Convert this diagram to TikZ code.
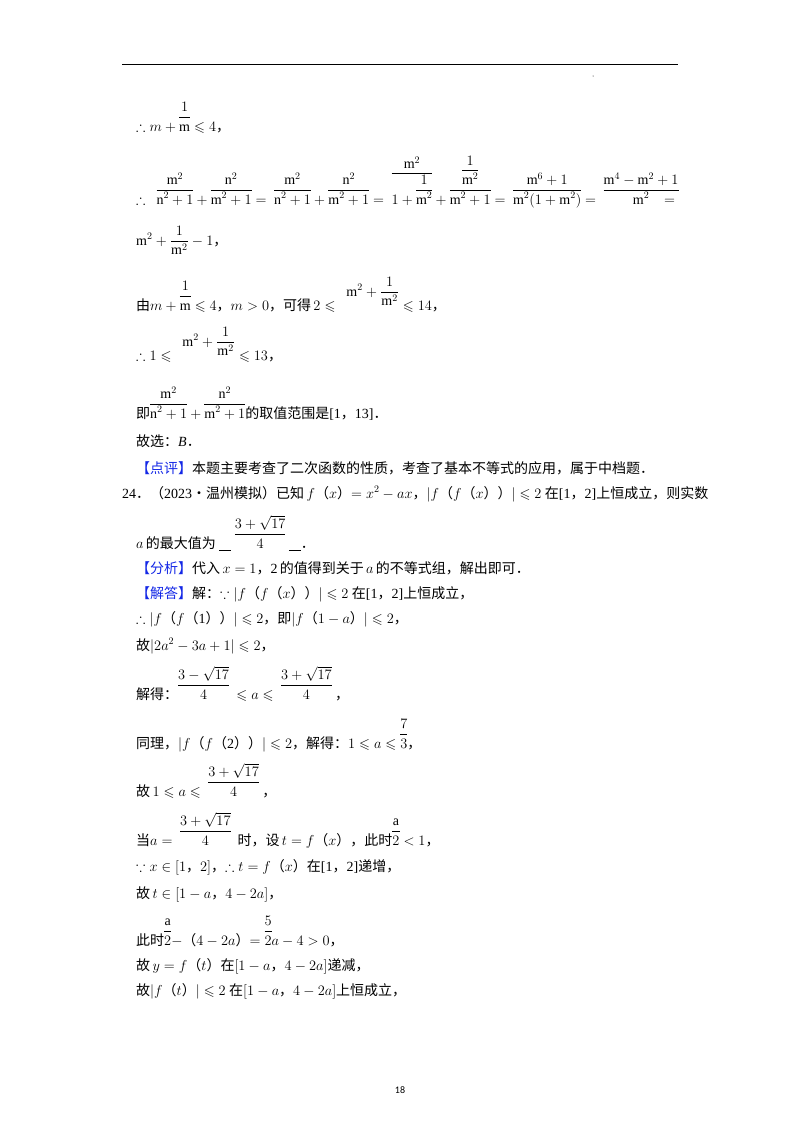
\documentclass[tikz,border=0pt]{standalone}
\usepackage{amsmath,amssymb}
\usepackage{fontspec}
\setmainfont{Liberation Serif}
\newfontfamily\cjk{Noto Sans CJK SC}
\newfontfamily\pgf{Carlito}
\newcommand\Z[1]{{\cjk #1}}
\newcommand\uf[2]{\begin{array}[b]{@{}c@{}}#1\\\hline\rule{0pt}{14pt}#2\end{array}}
\newcommand\mm{\mathrm{m}}
\newcommand\nn{\mathrm{n}}
\newcommand\sqa{3+\sqrt{17}}
\newcommand\lqs{\leqslant}
\definecolor{tagblue}{RGB}{20,40,230}
\begin{document}
\begin{tikzpicture}[x=1pt,y=1pt,
  txt/.style={anchor=base west,inner sep=0pt,font=\fontsize{14}{16}\selectfont},
  pg/.style={inner sep=0pt,font=\pgf\fontsize{10}{12}\selectfont}]
\useasboundingbox (0,0) rectangle (800,-1132);
\draw[line width=0.8pt] (122,-64) -- (678,-64);
\fill (593,-76) circle (0.5);
\node[txt] (l1) at (136,-131) {$\therefore m+\uf{1}{\mm}\lqs 4$\Z{，}};
\node[txt] (l2) at (136,-204) {$\therefore\ \ \uf{\mm^2}{\nn^2+1}+\uf{\nn^2}{\mm^2+1}=\ \uf{\mm^2}{\nn^2+1}+\uf{\nn^2}{\mm^2+1}=\ \uf{\mm^2}{1+\uf{1}{\mm^2}}+\uf{\uf{1}{\mm^2}}{\mm^2+1}=\ \uf{\mm^6+1}{\mm^2(1+\mm^2)}=\ \uf{\mm^4-\mm^2+1}{\mm^2}$};
\node[txt] (l2b) at (664,-204) {$=$};
\node[txt] (l3) at (136,-245) {$\mm^2+\dfrac{1}{\mm^2}-1$\Z{，}};
\node[txt] (l4) at (136,-310) {\Z{由}$m+\uf{1}{\mm}\lqs 4$\Z{，}$m>0$\Z{，可得}$\,2\lqs\ \ \raisebox{14pt}{$\mm^2+\dfrac{1}{\mm^2}$}\lqs 14$\Z{，}};
\node[txt] (l5) at (136,-360) {$\therefore 1\lqs\ \ \raisebox{14pt}{$\mm^2+\dfrac{1}{\mm^2}$}\lqs 13$\Z{，}};
\node[txt] (l6) at (136,-418) {\Z{即}$\uf{\mm^2}{\nn^2+1}+\uf{\nn^2}{\mm^2+1}$\Z{的取值范围是}[1\Z{，}13]\Z{．}};
\node[txt] (l7) at (136,-446) {\Z{故选：}\textit{B}\Z{．}};
\node[txt] (l8) at (136,-473) {\textcolor{tagblue}{\Z{【点评】}}\Z{本题主要考查了二次函数的性质，考查了基本不等式的应用，属于中档题．}};
\node[txt] (l9) at (122,-498) {24\Z{．（}2023\Z{•温州模拟）已知}\,$f$\Z{（}$x$\Z{）}$=x^2-ax$\Z{，}$|f$\Z{（}$f$\Z{（}$x$\Z{））}$|\lqs 2$\ \Z{在}[1\Z{，}2]\Z{上恒成立，则实数}};
\node[txt] (l10) at (136,-548) {$a$\,\Z{的最大值为}\ \underline{\hspace{12pt}}\ $\uf{\sqa}{4}$\ \underline{\hspace{12pt}}\Z{．}};
\node[txt] (l11) at (136,-573) {\textcolor{tagblue}{\Z{【分析】}}\Z{代入}\,$x=1$\Z{，}2\,\Z{的值得到关于}\,$a$\,\Z{的不等式组，解出即可．}};
\node[txt] (l12) at (136,-598) {\textcolor{tagblue}{\Z{【解答】}}\Z{解：}$\because|f$\Z{（}$f$\Z{（}$x$\Z{））}$|\lqs 2$\ \Z{在}[1\Z{，}2]\Z{上恒成立，}};
\node[txt] (l13) at (136,-623) {$\therefore|f$\Z{（}$f$\Z{（}1\Z{））}$|\lqs 2$\Z{，即}$|f$\Z{（}$1-a$\Z{）}$|\lqs 2$\Z{，}};
\node[txt] (l14) at (136,-650) {\Z{故}$|2a^2-3a+1|\lqs 2$\Z{，}};
\node[txt] (l15) at (136,-699) {\Z{解得：}$\uf{3-\sqrt{17}}{4}\ \lqs a\lqs\ \uf{\sqa}{4}$\ \Z{，}};
\node[txt] (l16) at (136,-748) {\Z{同理，}$|f$\Z{（}$f$\Z{（}2\Z{））}$|\lqs 2$\Z{，解得：}$1\lqs a\lqs\uf{7}{3}$\Z{，}};
\node[txt] (l17) at (136,-796) {\Z{故}$\,1\lqs a\lqs\ \uf{\sqa}{4}$\ \Z{，}};
\node[txt] (l18) at (136,-845) {\Z{当}$a=\ \uf{\sqa}{4}$\ \ \Z{时，设}\,$t=f$\Z{（}$x$\Z{），此时}$\uf{\mathrm{a}}{2}<1$\Z{，}};
\node[txt] (l19) at (136,-871) {$\because x\in[1$\Z{，}$2]$\Z{，}$\therefore t=f$\Z{（}$x$\Z{）在}[1\Z{，}2]\Z{递增，}};
\node[txt] (l20) at (136,-898) {\Z{故}$\,t\in[1-a$\Z{，}$4-2a]$\Z{，}};
\node[txt] (l21) at (136,-945) {\Z{此时}$\uf{\mathrm{a}}{2}-$\Z{（}$4-2a$\Z{）}$=\uf{5}{2}a-4>0$\Z{，}};
\node[txt] (l22) at (136,-970) {\Z{故}$\,y=f$\Z{（}$t$\Z{）在}$[1-a$\Z{，}$4-2a]$\Z{递减，}};
\node[txt] (l23) at (136,-995) {\Z{故}$|f$\Z{（}$t$\Z{）}$|\lqs 2$\ \Z{在}$[1-a$\Z{，}$4-2a]$\Z{上恒成立，}};
\node[pg] (pn) at (400,-1090) {18};
\end{tikzpicture}
\end{document}
